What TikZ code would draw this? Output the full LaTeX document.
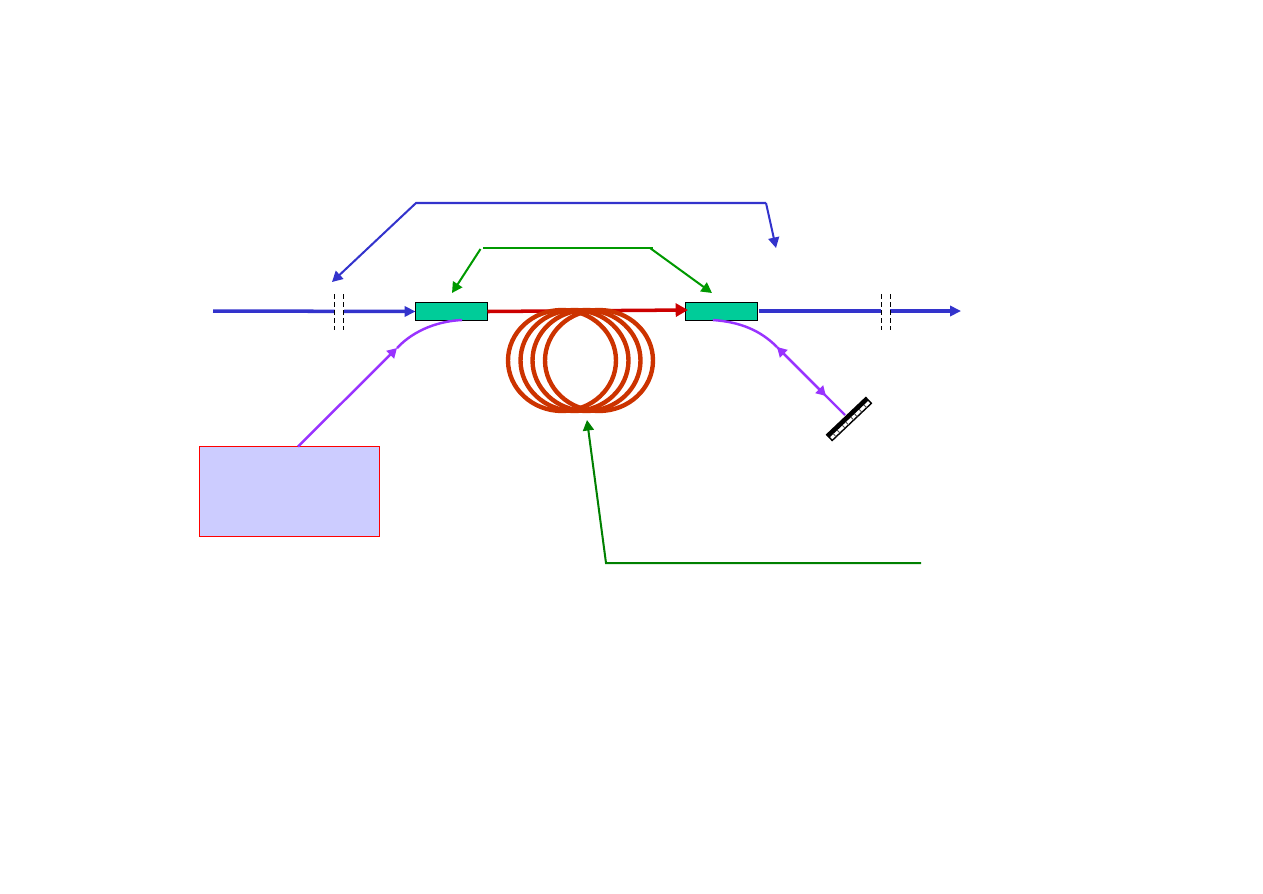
\documentclass[tikz,border=0pt]{standalone}
\usetikzlibrary{positioning, calc, arrows.meta, shapes.geometric}

\definecolor{fibreblue}{HTML}{3333CC}
\definecolor{pumpviolet}{HTML}{9933FF}
\definecolor{labelgreen}{HTML}{009900}
\definecolor{darkgreen}{HTML}{008000}
\definecolor{coilred}{HTML}{CC3300}
\definecolor{gratingred}{HTML}{CC0000}
\definecolor{couplerteal}{HTML}{00CC99}
\definecolor{pumpfill}{HTML}{CCCCFF}

\tikzset{
	coupler/.style={draw=black, fill=couplerteal, line width=.55pt, minimum width=1.44cm, minimum height=.36cm, inner sep=0pt, outer sep=0pt},
	pumpbox/.style={draw=red, fill=pumpfill, line width=.55pt, minimum width=3.6cm, minimum height=1.8cm, inner sep=0pt, outer sep=0pt},
	breakgap/.style={fill=white, minimum width=.18cm, minimum height=.72cm, inner sep=0pt, outer sep=0pt},
	breakline/.style={line width=.55pt, dash pattern=on 2.8pt off 1.8pt},
	fibre/.style={line width=2pt, -{Triangle[length=6.2pt, width=5.8pt]}},
	pointer/.style={line width=1.15pt, -{Triangle[length=6pt, width=6.2pt]}},
	pumpline/.style={line width=1.4pt, pumpviolet},
	pumptip/.style={-{Triangle[length=5.5pt, width=6pt]}},
	coil/.style={ellipse, draw=coilred, line width=2.5pt, minimum width=2.16cm, minimum height=2.02cm, inner sep=0pt},
}

\begin{document}
\begin{tikzpicture}[x=.02cm, y=-.02cm]
	\useasboundingbox (0,0) rectangle (1263,893);
	% couplers and pump
	\node[coupler] (coupler1) at (451.5,311.5) {};
	\node[coupler, right=3.96cm of coupler1] (coupler2) {};
	\node[pumpbox] (pump) at (289.5,491.5) {};
	% signal in and out
	\coordinate (in) at (213,311);
	\coordinate (out) at (961,311);
	\coordinate (outstart) at (759,311);
	\coordinate (redend) at (688,310);
	\draw[fibre, fibreblue] (in) -- (coupler1.west);
	\draw[fibre, fibreblue] (outstart) -- (out);
	\draw[fibre, gratingred, -{Triangle[length=7pt, width=7.4pt]}] (coupler1.east) -- (redend);
	% fibre breaks
	\node[breakgap] (gap1) at (339,312) {};
	\node[breakgap] (gap2) at (885.5,312) {};
	\foreach \g in {gap1,gap2} {
		\draw[breakline] (\g.north west) -- (\g.south west);
		\draw[breakline] (\g.north east) -- (\g.south east);
	}
	% fibre spool
	\foreach \i/\x in {1/562,2/574.5,3/586.5,4/599} {
		\node[coil] (coil\i) at (\x,360.5) {};
	}
	% pump path
	\coordinate (pumphead) at (397,348);
	\coordinate (pumpend) at (462,320);
	\draw[pumpline, pumptip] (pump.north)++(8.5,0) coordinate (pumpstart) -- (pumphead);
	\draw[pumpline] (pumphead) .. controls (415,329) and (440,321) .. (pumpend);
	% mirror
	\node[draw=black, fill=white, line width=.8pt, rotate=43.5, minimum width=1.08cm, minimum height=.16cm, inner sep=0pt, outer sep=0pt] (mirror) at (849,419) {};
	\fill[black] (mirror.north west) -- (mirror.north east) -- (mirror.east) -- (mirror.west) -- cycle;
	\foreach \t in {.1,.2,.33,.42,.55,.64,.76,.88} {
		\draw[black!70, line width=.5pt] ($(mirror.south west)!\t!(mirror.south east)$) -- ($(mirror.west)!\t!(mirror.east)$);
	}
	% residual pump to mirror
	\coordinate (resstart) at (713,320);
	\coordinate (reshead) at (777,347);
	\coordinate (mirrorhead) at (826,396);
	\coordinate (mirrorend) at (845,415);
	\draw[pumpline] (resstart) .. controls (740,322) and (760,330) .. (reshead);
	\draw[pumpline, pumptip] (mirrorend) -- (reshead);
	\draw[pumpline, pumptip] (reshead) -- (mirrorhead);
	% top pointers
	\coordinate (blue1) at (416,203);
	\coordinate (blue2) at (766,203);
	\draw[pointer, fibreblue] (blue2) -- (blue1) -- (332,282) coordinate (bluetipl);
	\draw[pointer, fibreblue] (blue2) -- (776,248) coordinate (bluetipr);
	\coordinate (green1) at (483,248);
	\coordinate (green2) at (653,248);
	\draw[line width=1.2pt, labelgreen] (green1) -- (green2);
	\draw[pointer, labelgreen] (480.5,249) -- (452,293) coordinate (greentipl);
	\draw[pointer, labelgreen] (650,248) -- (712,293) coordinate (greentipr);
	% bottom pointer
	\coordinate (low1) at (921,563);
	\coordinate (low2) at (606,563);
	\draw[pointer, darkgreen] (low1) -- (low2) -- (587,420) coordinate (lowtip);
\end{tikzpicture}
\end{document}
